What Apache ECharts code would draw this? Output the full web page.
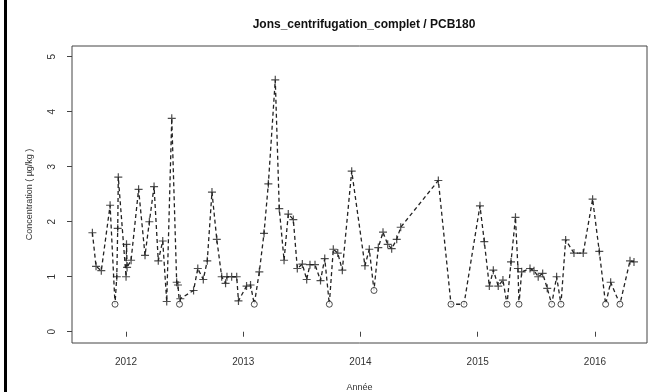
<!DOCTYPE html>
<html>
<head>
<meta charset="utf-8">
<script src="https://cdn.jsdelivr.net/npm/echarts@6/dist/echarts.min.js"></script>
<style>
  html, body { margin: 0; padding: 0; background: #fff; }
  #chart { width: 653px; height: 392px; }
</style>
</head>
<body>
<div id="chart"></div>
<script>
// Dates de prélèvement (année décimale)
const dates = [
  2011.713, 2011.744, 2011.789, 2011.864, 2011.906, 2011.921, 2011.929, 2011.934,
  2012.000, 2012.004, 2012.009, 2012.043, 2012.107, 2012.162, 2012.199, 2012.239,
  2012.275, 2012.313, 2012.347, 2012.390, 2012.432, 2012.443, 2012.456, 2012.463,
  2012.576, 2012.612, 2012.659, 2012.693, 2012.733, 2012.774, 2012.816, 2012.849,
  2012.861, 2012.901, 2012.944, 2012.959, 2013.028, 2013.062, 2013.094, 2013.137,
  2013.177, 2013.214, 2013.273, 2013.307, 2013.348, 2013.384, 2013.427, 2013.461,
  2013.504, 2013.541, 2013.569, 2013.612, 2013.659, 2013.695, 2013.734, 2013.768,
  2013.806, 2013.845, 2013.925, 2014.038, 2014.075, 2014.115, 2014.152, 2014.192,
  2014.232, 2014.266, 2014.309, 2014.343, 2014.664, 2014.772, 2014.883, 2015.019,
  2015.056, 2015.099, 2015.133, 2015.175, 2015.215, 2015.250, 2015.284, 2015.322,
  2015.343, 2015.352, 2015.375, 2015.446, 2015.480, 2015.516, 2015.554, 2015.593,
  2015.631, 2015.673, 2015.710, 2015.750, 2015.821, 2015.900, 2015.980, 2016.037,
  2016.091, 2016.134, 2016.213, 2016.299, 2016.333
];
// Concentrations (µg/kg)
const values = [
  1.80, 1.19, 1.11, 2.30, 0.50, 1.00, 1.88, 2.81,
  1.00, 1.59, 1.17, 1.30, 2.59, 1.39, 2.00, 2.64,
  1.29, 1.65, 0.55, 3.88, 0.90, 0.85, 0.50, 0.60,
  0.75, 1.15, 0.95, 1.29, 2.54, 1.68, 1.00, 0.88,
  1.00, 1.00, 1.00, 0.56, 0.83, 0.85, 0.50, 1.09,
  1.79, 2.69, 4.58, 2.24, 1.30, 2.14, 2.04, 1.15,
  1.23, 0.95, 1.22, 1.22, 0.93, 1.33, 0.50, 1.50,
  1.43, 1.12, 2.92, 1.20, 1.50, 0.75, 1.53, 1.81,
  1.59, 1.51, 1.68, 1.90, 2.75, 0.50, 0.50, 2.29,
  1.64, 0.83, 1.12, 0.83, 0.94, 0.50, 1.27, 2.08,
  1.15, 0.50, 1.09, 1.15, 1.11, 1.00, 1.06, 0.79,
  0.50, 1.00, 0.50, 1.67, 1.43, 1.43, 2.41, 1.46,
  0.50, 0.90, 0.50, 1.29, 1.27
];
// 1 = valeur < LQ (tracée en "o"), 0 = valeur quantifiée ("+")
const belowLQ = [
  0, 0, 0, 0, 1, 0, 0, 0,
  0, 0, 0, 0, 0, 0, 0, 0,
  0, 0, 0, 0, 0, 0, 1, 0,
  0, 0, 0, 0, 0, 0, 0, 0,
  0, 0, 0, 0, 0, 0, 1, 0,
  0, 0, 0, 0, 0, 0, 0, 0,
  0, 0, 0, 0, 0, 0, 1, 0,
  0, 0, 0, 0, 0, 1, 0, 0,
  0, 0, 0, 0, 0, 1, 1, 0,
  0, 0, 0, 0, 0, 1, 0, 0,
  0, 1, 0, 0, 0, 0, 0, 0,
  1, 0, 1, 0, 0, 0, 0, 0,
  1, 0, 1, 0, 0
];
const yearTicks = [2012, 2013, 2014, 2015, 2016];
const concTicks = [0, 1, 2, 3, 4, 5];

const allPts = dates.map((d, i) => [d, values[i]]);
const plusPts = allPts.filter((p, i) => !belowLQ[i]);
const lqPts = allPts.filter((p, i) => belowLQ[i]);

const ink = '#222';
const font = 'Liberation Sans, Arial, sans-serif';

const chart = echarts.init(document.getElementById('chart'), null, { renderer: 'canvas' });
chart.setOption({
  backgroundColor: '#fff',
  animation: false,
  title: {
    text: 'Jons_centrifugation_complet / PCB180',
    left: 359, top: 14, textAlign: 'center',
    textStyle: { fontFamily: font, fontSize: 12, fontWeight: 'bold', color: '#111' }
  },
  grid: {
    left: 72, right: 6, top: 46, bottom: 49,
    outerBoundsMode: 'none',
    show: true, borderColor: '#444', borderWidth: 1, backgroundColor: '#fff'
  },
  xAxis: {
    type: 'value',
    min: 2011.539, max: 2016.444,
    name: 'Année', nameLocation: 'middle', nameGap: 40,
    nameTextStyle: { fontFamily: font, fontSize: 9, color: '#333' },
    axisLine: { show: false },
    splitLine: { show: false },
    axisTick: { show: true, inside: false, length: 5, customValues: yearTicks,
      lineStyle: { color: '#444', width: 1 } },
    axisLabel: { customValues: yearTicks, margin: 14,
      fontFamily: font, fontSize: 10, color: '#333', formatter: v => String(v) }
  },
  yAxis: {
    type: 'value',
    min: -0.205, max: 5.195,
    name: 'Concentration ( µg/kg )', nameLocation: 'middle', nameGap: 38, nameRotate: 90,
    nameTextStyle: { fontFamily: font, fontSize: 9, color: '#333' },
    axisLine: { show: false },
    splitLine: { show: false },
    axisTick: { show: true, inside: false, length: 5, customValues: concTicks,
      lineStyle: { color: '#444', width: 1 } },
    axisLabel: { customValues: concTicks, margin: 15, rotate: 90,
      fontFamily: font, fontSize: 10, color: '#333' }
  },
  graphic: [
    { type: 'rect', left: 4, top: 0, shape: { width: 3, height: 392 },
      style: { fill: '#000' }, silent: true }
  ],
  series: [
    {
      type: 'line', data: allPts, showSymbol: false,
      lineStyle: { color: ink, width: 1.3, type: [4, 3] },
      z: 2
    },
    {
      type: 'scatter', data: plusPts,
      symbol: 'path://M3.4,0h1.2v8h-1.2z M0,3.4h8v1.2h-8z',
      symbolSize: 8,
      itemStyle: { color: ink },
      z: 3
    },
    {
      type: 'scatter', data: lqPts,
      symbol: 'circle', symbolSize: 6,
      itemStyle: { color: '#fff', borderColor: ink, borderWidth: 1 },
      z: 3
    }
  ]
});
</script>
</body>
</html>
